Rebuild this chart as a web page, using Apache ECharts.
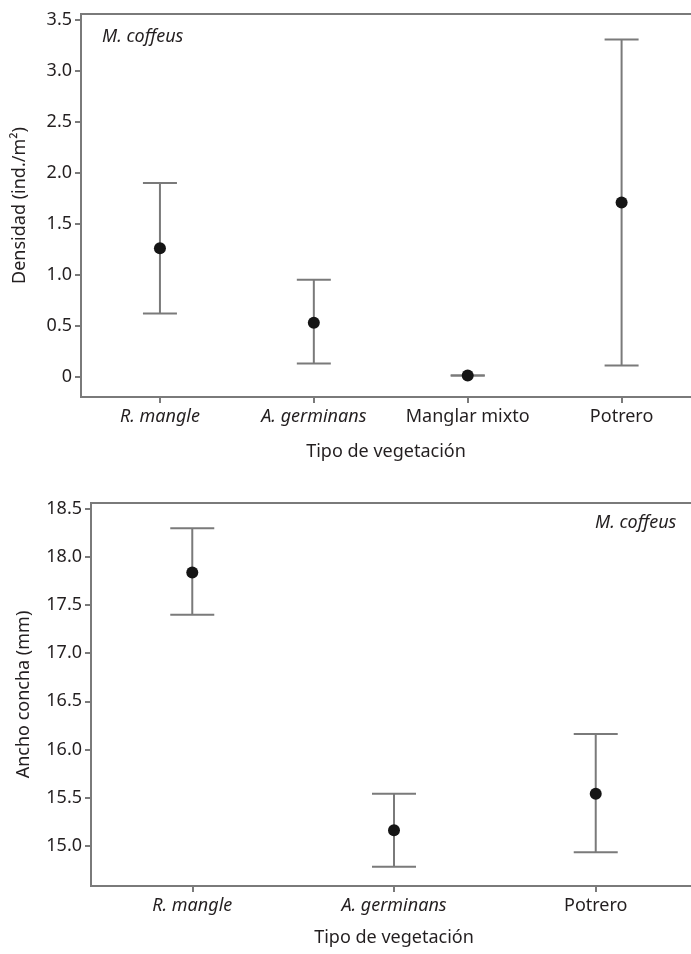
<!DOCTYPE html>
<html>
<head>
<meta charset="utf-8">
<script src="https://cdn.jsdelivr.net/npm/echarts@6/dist/echarts.min.js"></script>
<style>
html,body{margin:0;padding:0;background:#fff;overflow:hidden;width:691px;height:954px;}
#c{width:730px;height:954px;}
</style>
</head>
<body>
<div id="c"></div>
<script>
// ---- Data (top panel: density) ----
const densCats = ['R. mangle', 'A. germinans', 'Manglar mixto', 'Potrero'];
const densItalic = [true, true, false, false];
const densMean = [1.26, 0.53, 0.01, 1.71];
const densLow = [0.62, 0.13, 0.01, 0.11];
const densHigh = [1.90, 0.95, 0.01, 3.31];
const densTicks = [0, 0.5, 1.0, 1.5, 2.0, 2.5, 3.0, 3.5];

// ---- Data (bottom panel: shell width) ----
const widthCats = ['R. mangle', 'A. germinans', 'Potrero'];
const widthItalic = [true, true, false];
const widthMean = [17.84, 15.16, 15.54];
const widthLow = [17.40, 14.78, 14.93];
const widthHigh = [18.30, 15.54, 16.16];
const widthTicks = [15.0, 15.5, 16.0, 16.5, 17.0, 17.5, 18.0, 18.5];

const FONT = 'Noto Sans';
const TXT = '#231f20';
const AX = '#7a7a7a';
const FS = 18;

const chart = echarts.init(document.getElementById('c'));

function catLabel(cats, ital) {
  return function (v) {
    const i = Math.round(v);
    if (i < 0 || i >= cats.length) return '';
    return (ital[i] ? '{i|' : '{n|') + cats[i] + '}';
  };
}
const rich = {
  i: { fontStyle: 'italic', fontSize: FS, fontFamily: FONT, color: TXT },
  n: { fontSize: FS, fontFamily: FONT, color: TXT }
};

function errBar(half) {
  return function (params, api) {
    const x = api.value(0);
    const lo = api.coord([x, api.value(1)]);
    const hi = api.coord([x, api.value(2)]);
    const st = { stroke: AX, lineWidth: 2 };
    return {
      type: 'group',
      children: [
        { type: 'line', shape: { x1: lo[0], y1: lo[1], x2: hi[0], y2: hi[1] }, style: st },
        { type: 'line', shape: { x1: lo[0] - half, y1: lo[1], x2: lo[0] + half, y2: lo[1] }, style: st },
        { type: 'line', shape: { x1: hi[0] - half, y1: hi[1], x2: hi[0] + half, y2: hi[1] }, style: st }
      ]
    };
  };
}

const densErr = densCats.map((c, i) => [i, densLow[i], densHigh[i]]);
const densPts = densCats.map((c, i) => [i, densMean[i]]);
const widthErr = widthCats.map((c, i) => [i, widthLow[i], widthHigh[i]]);
const widthPts = widthCats.map((c, i) => [i, widthMean[i]]);

const axisLine = { show: true, onZero: false, lineStyle: { color: AX, width: 2 } };
const axisTick = (vals) => ({ show: true, length: 6, lineStyle: { color: AX, width: 2 }, customValues: vals });

chart.setOption({
  animation: false,
  backgroundColor: '#fff',
  grid: [
    { left: 81, width: 620, top: 14, height: 383, show: true, borderColor: AX, borderWidth: 2, outerBoundsMode: 'none', containLabel: false },
    { left: 91, width: 606, top: 503, height: 383, show: true, borderColor: AX, borderWidth: 2, outerBoundsMode: 'none', containLabel: false }
  ],
  xAxis: [
    {
      type: 'value', gridIndex: 0, min: -0.513, max: 3.516,
      splitLine: { show: false }, axisLine: axisLine,
      axisTick: axisTick([0, 1, 2, 3]),
      axisLabel: { customValues: [0, 1, 2, 3], formatter: catLabel(densCats, densItalic), rich: rich, margin: 11 },
      name: 'Tipo de vegetación', nameLocation: 'middle', nameGap: 46,
      nameTextStyle: { fontSize: FS, fontFamily: FONT, color: TXT, padding: [0, 10, 0, 0] }
    },
    {
      type: 'value', gridIndex: 1, min: -0.502, max: 2.502,
      splitLine: { show: false }, axisLine: axisLine,
      axisTick: axisTick([0, 1, 2]),
      axisLabel: { customValues: [0, 1, 2], formatter: catLabel(widthCats, widthItalic), rich: rich, margin: 11 },
      name: 'Tipo de vegetación', nameLocation: 'middle', nameGap: 43,
      nameTextStyle: { fontSize: FS, fontFamily: FONT, color: TXT }
    }
  ],
  yAxis: [
    {
      type: 'value', gridIndex: 0, min: -0.2, max: 3.56,
      splitLine: { show: false }, axisLine: axisLine,
      axisTick: axisTick(densTicks),
      axisLabel: {
        customValues: densTicks, margin: 9, fontSize: FS, fontFamily: FONT, color: TXT,
        formatter: v => (Math.abs(v) < 1e-9 ? '0' : v.toFixed(1))
      },
      name: 'Densidad (ind./m²)', nameLocation: 'middle', nameGap: 52,
      nameTextStyle: { fontSize: FS, fontFamily: FONT, color: TXT }
    },
    {
      type: 'value', gridIndex: 1, min: 14.58, max: 18.562,
      splitLine: { show: false }, axisLine: axisLine,
      axisTick: axisTick(widthTicks),
      axisLabel: {
        customValues: widthTicks, margin: 9, fontSize: FS, fontFamily: FONT, color: TXT,
        formatter: v => v.toFixed(1)
      },
      name: 'Ancho concha (mm)', nameLocation: 'middle', nameGap: 58,
      nameTextStyle: { fontSize: FS, fontFamily: FONT, color: TXT }
    }
  ],
  series: [
    { type: 'custom', xAxisIndex: 0, yAxisIndex: 0, renderItem: errBar(17), data: densErr, z: 2 },
    { type: 'scatter', xAxisIndex: 0, yAxisIndex: 0, data: densPts, symbolSize: 12, itemStyle: { color: '#151515', opacity: 1 }, z: 3 },
    { type: 'custom', xAxisIndex: 1, yAxisIndex: 1, renderItem: errBar(22), data: widthErr, z: 2 },
    { type: 'scatter', xAxisIndex: 1, yAxisIndex: 1, data: widthPts, symbolSize: 12, itemStyle: { color: '#151515', opacity: 1 }, z: 3 }
  ],
  graphic: [
    { type: 'text', left: 102, top: 28, style: { text: 'M. coffeus', fontStyle: 'italic', fontSize: FS, fontFamily: FONT, fill: TXT } },
    { type: 'text', left: 595, top: 514, style: { text: 'M. coffeus', fontStyle: 'italic', fontSize: FS, fontFamily: FONT, fill: TXT } }
  ]
});
</script>
</body>
</html>
